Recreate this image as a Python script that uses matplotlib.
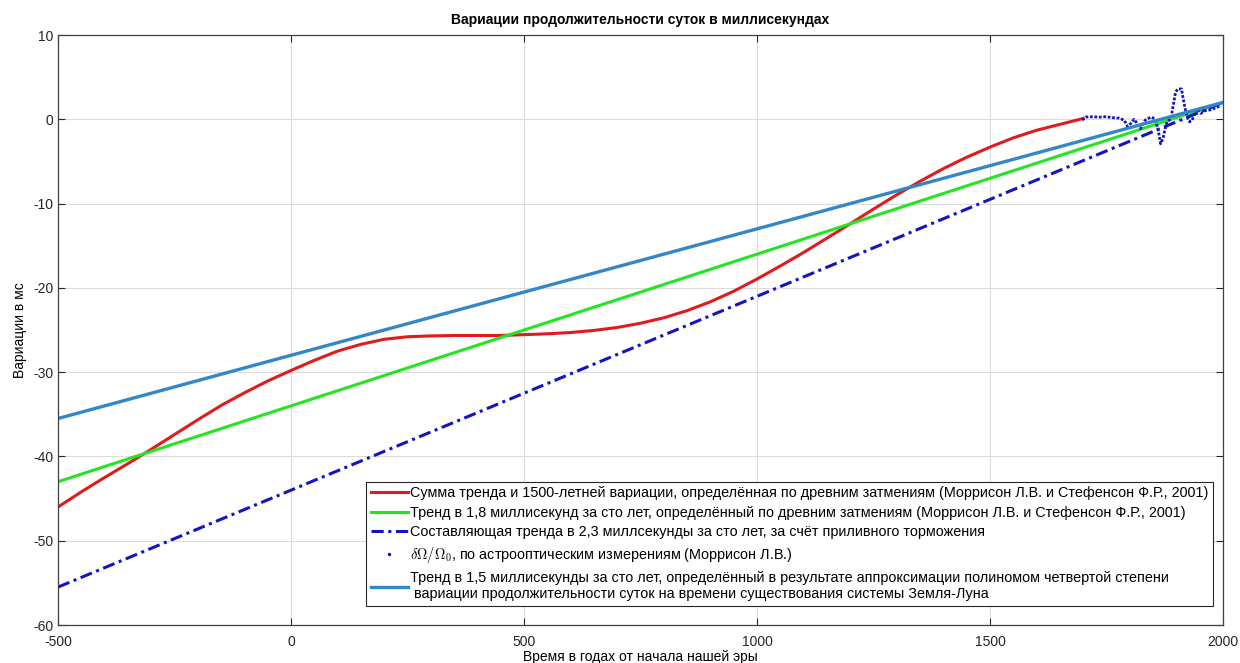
import matplotlib.pyplot as plt
from matplotlib.lines import Line2D

# ms per century rates of the three linear trends, all anchored at year 2000
trend_years = [-500, 2000]
trend_18 = [-43.0, 2.0]
trend_23 = [-55.5, 2.0]
trend_15 = [-35.5, 2.0]

# trend plus the 1500-year variation (Morrison & Stephenson, 2001)
sum_years = [-500, -450, -400, -350, -300, -250, -200, -150, -100, -50,
             0, 50, 100, 150, 200, 250, 300, 350, 400, 450,
             500, 550, 600, 650, 700, 750, 800, 850, 900, 950,
             1000, 1050, 1100, 1150, 1200, 1250, 1300, 1350, 1400, 1450,
             1500, 1550, 1600, 1650, 1700]
sum_vals = [-46.0, -44.2, -42.5, -40.85, -39.15, -37.4, -35.65, -33.95, -32.45, -31.05,
            -29.8, -28.6, -27.5, -26.7, -26.1, -25.8, -25.7, -25.65, -25.65, -25.65,
            -25.55, -25.45, -25.3, -25.05, -24.7, -24.2, -23.55, -22.7, -21.65, -20.4,
            -18.95, -17.4, -15.8, -14.1, -12.4, -10.65, -8.95, -7.35, -5.85, -4.5,
            -3.3, -2.2, -1.3, -0.6, 0.1]

# astro-optical measurements
obs_years = [1698, 1705, 1720, 1734, 1748, 1762, 1777, 1788, 1795, 1802,
             1809, 1816, 1823, 1833, 1845, 1854, 1860, 1863, 1866, 1871,
             1876, 1880, 1888, 1895, 1898, 1903, 1911, 1914, 1918, 1923,
             1928, 1934, 1940, 1945, 1952, 1963, 1974, 1984, 1995]
obs_vals = [-0.1, 0.26, 0.3, 0.26, 0.3, 0.2, 0.14, -0.1, -0.85, -0.5,
            0.0, -0.5, -1.1, -0.1, 0.26, 0.06, -1.1, -1.9, -2.9, -2.3,
            -1.1, -0.3, 0.06, 2.2, 3.2, 3.6, 3.6, 2.6, 1.45, 0.26,
            -0.3, -0.1, 0.86, 1.25, 0.7, 1.05, 1.13, 1.37, 1.6]

labels = [
    "Сумма тренда и 1500-летней вариации, определённая по древним затмениям (Моррисон Л.В. и Стефенсон Ф.Р., 2001)",
    "Тренд в 1,8 миллисекунд за сто лет, определённый по древним затмениям (Моррисон Л.В. и Стефенсон Ф.Р., 2001)",
    "Составляющая тренда в 2,3 миллсекунды за сто лет, за счёт приливного торможения",
    r"$\delta\Omega/\Omega_0$, по астрооптическим измерениям (Моррисон Л.В.)",
    "Тренд в 1,5 миллисекунды за сто лет, определённый в результате аппроксимации полиномом четвертой степени\n"
    " вариации продолжительности суток на времени существования системы Земля-Луна",
]

plt.rcParams['font.family'] = ['Liberation Sans', 'DejaVu Sans']
plt.rcParams['mathtext.fontset'] = 'cm'
plt.rcParams['axes.unicode_minus'] = False

fig = plt.figure(figsize=(12.4, 6.63), dpi=100)
ax = fig.add_axes([0.0468, 0.0573, 0.9395, 0.8899])

c_red = '#e01b1b'
c_green = '#22e622'
c_dblue = '#1414c0'
c_steel = '#3487c6'

l_red, = ax.plot(sum_years, sum_vals, color=c_red, lw=2.2)
l_green, = ax.plot(trend_years, trend_18, color=c_green, lw=2.2)
l_tidal, = ax.plot(trend_years, trend_23, color=c_dblue, lw=2.2, ls=(0, (4, 1.5, 1, 1.5)))
l_obs, = ax.plot(obs_years, obs_vals, color=c_dblue, lw=2.0, ls=(0, (1, 0.6)))
l_steel, = ax.plot(trend_years, trend_15, color=c_steel, lw=2.4)

ax.set_xlim(-500, 2000)
ax.set_ylim(-60, 10)
ax.set_xticks(range(-500, 2001, 500))
ax.set_yticks(range(-60, 11, 10))
ax.grid(True, color='#dcdcdc', lw=0.8)
ax.set_axisbelow(True)
ax.tick_params(direction='in', top=True, right=True, length=5, labelsize=10,
               colors='#262626', width=0.8)
ax.tick_params(axis='x', pad=7)
for sp in ax.spines.values():
    sp.set_color('#404040')
    sp.set_linewidth(0.9)

ax.set_title("Вариации продолжительности суток в миллисекундах",
             fontsize=10, fontweight='bold', pad=8)
ax.set_xlabel("Время в годах от начала нашей эры", fontsize=10, labelpad=1)
ax.set_ylabel("Вариации в мс", fontsize=10, labelpad=4)

obs_handle = Line2D([], [], ls='none', marker='.', ms=3, color=c_dblue)
leg = ax.legend([l_red, l_green, l_tidal, obs_handle, l_steel], labels,
                loc='lower right', bbox_to_anchor=(0.9915, 0.033),
                fontsize=10.4, frameon=True, fancybox=False, framealpha=1,
                edgecolor='#262626', handlelength=2.6, handletextpad=0.15,
                borderpad=0.3, labelspacing=0.4, borderaxespad=0)
leg.get_frame().set_linewidth(0.8)

fig.savefig('out.png', dpi=100)
